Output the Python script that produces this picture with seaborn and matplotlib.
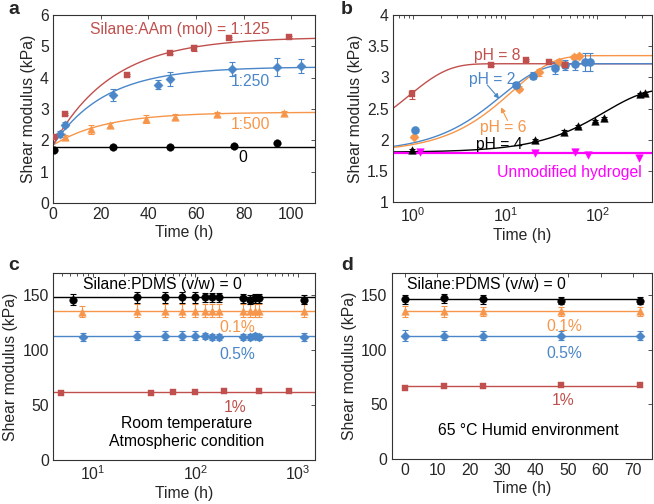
import numpy as np
import pandas as pd
import matplotlib
matplotlib.use("Agg")
import matplotlib.pyplot as plt
import seaborn as sns
from matplotlib.ticker import LogLocator, NullFormatter, MultipleLocator

sns.set_theme(style="white")
plt.rcParams['font.family'] = ['Liberation Sans', 'DejaVu Sans']

RED = "#C0504D"
BLUE = "#4A86C8"
ORANGE = "#F7964A"
BLACK = "#000000"
MAGENTA = "#FF00FF"

# ---------------- Panel a data ----------------
a_t_0 = [0.5, 25, 49, 76, 94]
a_g_0 = [1.70, 1.80, 1.80, 1.83, 1.93]
a_e_0 = [0.05, 0.06, 0.06, 0.06, 0.04]
a_t_500 = [5, 16, 24, 39, 51, 69, 97]
a_g_500 = [2.10, 2.35, 2.50, 2.68, 2.75, 2.85, 2.88]
a_e_500 = [0.06, 0.15, 0.06, 0.12, 0.08, 0.06, 0.07]
a_t_250 = [3, 5, 25, 44, 49, 75, 94, 104]
a_g_250 = [2.20, 2.50, 3.45, 3.78, 3.95, 4.28, 4.35, 4.38]
a_e_250 = [0.10, 0.08, 0.20, 0.15, 0.22, 0.22, 0.28, 0.22]
a_t_125 = [0.5, 5, 31, 49, 59, 74, 99]
a_g_125 = [2.12, 2.85, 4.10, 4.80, 4.95, 5.27, 5.30]
a_e_125 = [0.03, 0.03, 0.03, 0.04, 0.10, 0.03, 0.03]
# exponential fit parameters: G = G0 + A (1 - exp(-t/tau))
a_fit_G0 = [1.80, 1.85, 1.85, 1.85]
a_fit_A = [0.00, 1.05, 2.50, 3.45]
a_fit_tau = [1.0, 22.0, 22.0, 25.0]

# ---------------- Panel b data ----------------
b_t_8 = [0.98, 7, 17, 30, 45]
b_g_8 = [2.73, 3.20, 3.28, 3.25, 3.20]
b_e_8 = [0.07, 0.02, 0.02, 0.02, 0.05]
b_t_2 = [1.05, 13, 20, 35, 45, 57, 73, 83]
b_g_2 = [2.15, 2.88, 3.03, 3.15, 3.20, 3.22, 3.25, 3.25]
b_e_2 = [0.02, 0.04, 0.06, 0.09, 0.08, 0.10, 0.15, 0.15]
b_t_6 = [1.03, 14, 23, 38, 55, 63]
b_g_6 = [2.05, 2.82, 3.08, 3.25, 3.33, 3.35]
b_e_6 = [0.02, 0.04, 0.05, 0.04, 0.03, 0.03]
b_t_4 = [0.98, 21, 43, 62, 95, 118, 290, 328]
b_g_4 = [1.83, 2.00, 2.13, 2.22, 2.30, 2.35, 2.73, 2.75]
b_e_4 = [0.03, 0.02, 0.02, 0.02, 0.02, 0.02, 0.02, 0.02]
b_t_un = [1.2, 21, 57, 79, 283]
b_g_un = [1.80, 1.78, 1.80, 1.76, 1.70]
b_fit_G0 = [1.80, 1.80, 1.80, 1.80, 1.78]
b_fit_A = [1.42, 1.42, 1.55, 1.02, 0.0]
b_fit_tau = [0.89, 9.0, 12.0, 120.0, 1.0]

# ---------------- Panel c data ----------------
c_t_0 = [6.3, 27, 50, 74, 100, 123, 145, 170, 295, 340, 380, 420, 1160]
c_g_0 = [146, 148, 148, 148, 148, 148, 148, 148, 147, 146, 147, 147, 146]
c_e_0 = [5, 5, 5, 5, 5, 4, 4, 4, 4, 4, 4, 4, 4]
c_t_01 = [7.8, 27, 50, 74, 100, 123, 145, 170, 295, 340, 380, 420, 1160]
c_g_01 = [135, 136, 136, 136, 136, 136, 136, 136, 136, 136, 136, 136, 136]
c_e_01 = [5, 6, 6, 6, 6, 6, 6, 6, 6, 6, 6, 6, 6]
c_t_05 = [8, 27, 50, 74, 100, 123, 145, 170, 295, 340, 380, 420, 1160]
c_g_05 = [112, 113, 113, 113, 113, 113, 112, 112, 112, 112, 113, 112, 112]
c_e_05 = [4, 4, 4, 4, 4, 3, 3, 3, 3, 3, 3, 3, 4]
c_t_1 = [4.8, 37, 60, 100, 190, 420, 830]
c_g_1 = [61, 61, 62, 62, 63, 63, 63]
c_fit = [148, 136, 113, 62]

# ---------------- Panel d data ----------------
d_t = [0, 12, 24, 48, 72]
d_g_0 = [146, 147, 146, 145, 145]
d_e_0 = [4, 4, 4, 3, 3]
d_g_01 = [135, 135, 135, 135, 135]
d_e_01 = [5, 5, 4, 4, 4]
d_g_05 = [113, 113, 113, 113, 113]
d_e_05 = [5, 4, 4, 4, 4]
d_g_1 = [65, 67, 67, 68, 68]
d_fit = [146, 135, 113, 67]

FS = 11.3

fig = plt.figure(figsize=(6.54, 5.04), dpi=100)
ax_a = fig.add_axes([0.081, 0.597, 0.401, 0.373])
ax_b = fig.add_axes([0.601, 0.599, 0.396, 0.371])
ax_c = fig.add_axes([0.081, 0.087, 0.401, 0.371])
ax_d = fig.add_axes([0.599, 0.089, 0.398, 0.369])


def style(ax):
    ax.tick_params(direction="in", which="both", top=True, right=True,
                   labelsize=FS, length=3, width=0.6, color="#333333", pad=3)
    ax.tick_params(which="minor", length=1.8)
    for s in ax.spines.values():
        s.set_color("#333333")
        s.set_linewidth(0.8)
    ax.set_xlabel("Time (h)", fontsize=FS, labelpad=2)
    ax.set_ylabel("Shear modulus (kPa)", fontsize=FS, labelpad=3)


def pts(ax, t, g, e, color, marker, ms=30):
    df = pd.DataFrame({"t": t, "g": g})
    if e is not None:
        ax.errorbar(t, g, yerr=e, fmt="none", ecolor=color, elinewidth=0.8,
                    capsize=2.5, capthick=0.8, zorder=3)
    sns.scatterplot(data=df, x="t", y="g", ax=ax, color=color, marker=marker,
                    s=ms, edgecolor=color, linewidth=0.3, zorder=4, legend=False)


def curve(ax, t, g, color, lw=1.0):
    df = pd.DataFrame({"t": t, "g": g})
    sns.lineplot(data=df, x="t", y="g", ax=ax, color=color, lw=lw, zorder=2,
                 legend=False)


# ---------------- Panel a ----------------
ta = np.linspace(0, 110, 300)
a_colors = [BLACK, ORANGE, BLUE, RED]
for G0, A, tau, col in zip(a_fit_G0, a_fit_A, a_fit_tau, a_colors):
    curve(ax_a, ta, G0 + A * (1 - np.exp(-ta / tau)), col)
pts(ax_a, a_t_0, a_g_0, a_e_0, BLACK, "o")
pts(ax_a, a_t_500, a_g_500, a_e_500, ORANGE, "^")
pts(ax_a, a_t_250, a_g_250, a_e_250, BLUE, "D", ms=22)
pts(ax_a, a_t_125, a_g_125, a_e_125, RED, "s", ms=24)
ax_a.set_xlim(0, 110)
ax_a.set_ylim(0, 6)
ax_a.xaxis.set_major_locator(MultipleLocator(20))
ax_a.yaxis.set_major_locator(MultipleLocator(1))
style(ax_a)
ax_a.text(53, 5.55, "Silane:AAm (mol) = 1:125", color=RED, fontsize=FS, ha="center", va="center")
ax_a.text(83, 3.87, "1:250", color=BLUE, fontsize=FS, ha="center", va="center")
ax_a.text(83, 2.52, "1:500", color=ORANGE, fontsize=FS, ha="center", va="center")
ax_a.text(79.5, 1.47, "0", color=BLACK, fontsize=FS, ha="center", va="center")

# ---------------- Panel b ----------------
tb = np.logspace(np.log10(0.6), np.log10(400), 400)
b_colors = [RED, BLUE, ORANGE, BLACK, MAGENTA]
for G0, A, tau, col in zip(b_fit_G0, b_fit_A, b_fit_tau, b_colors):
    curve(ax_b, tb, G0 + A * (1 - np.exp(-tb / tau)), col,
          lw=1.6 if col == MAGENTA else 1.0)
pts(ax_b, b_t_un, b_g_un, None, MAGENTA, "v", ms=30)
pts(ax_b, b_t_4, b_g_4, b_e_4, BLACK, "^")
pts(ax_b, b_t_6, b_g_6, b_e_6, ORANGE, "D", ms=22)
pts(ax_b, b_t_2, b_g_2, b_e_2, BLUE, "o", ms=34)
pts(ax_b, b_t_8, b_g_8, b_e_8, RED, "s", ms=24)
ax_b.set_xscale("log")
ax_b.set_xlim(0.61, 390)
ax_b.set_ylim(1, 4)
ax_b.yaxis.set_major_locator(MultipleLocator(0.5))
ax_b.set_yticklabels([f"{v:g}" for v in ax_b.get_yticks()])
ax_b.xaxis.set_major_locator(LogLocator(base=10, numticks=10))
ax_b.xaxis.set_minor_locator(LogLocator(base=10, subs=np.arange(2, 10), numticks=10))
ax_b.xaxis.set_minor_formatter(NullFormatter())
style(ax_b)
ax_b.text(8.2, 3.36, "pH = 8", color=RED, fontsize=FS, ha="center", va="center")
ax_b.text(7.3, 2.97, "pH = 2", color=BLUE, fontsize=FS, ha="center", va="center")
ax_b.text(9.5, 2.20, "pH = 6", color=ORANGE, fontsize=FS, ha="center", va="center")
ax_b.text(8.7, 1.93, "pH = 4", color=BLACK, fontsize=FS, ha="center", va="center")
ax_b.text(50, 1.48, "Unmodified hydrogel", color=MAGENTA, fontsize=FS, ha="center", va="center")
ax_b.annotate("", xy=(8.6, 2.66), xytext=(6.4, 2.88),
              arrowprops=dict(arrowstyle="-|>", color=BLUE, lw=0.8, mutation_scale=7,
                              shrinkA=0, shrinkB=0))
ax_b.annotate("", xy=(9.0, 2.52), xytext=(10.6, 2.31),
              arrowprops=dict(arrowstyle="-|>", color=ORANGE, lw=0.8, mutation_scale=7,
                              shrinkA=0, shrinkB=0))

# ---------------- Panel c ----------------
tc = np.logspace(np.log10(4), np.log10(1500), 50)
for val, col in zip(c_fit, [BLACK, ORANGE, BLUE, RED]):
    curve(ax_c, tc, np.full_like(tc, val), col)
pts(ax_c, c_t_1, c_g_1, None, RED, "s", ms=24)
pts(ax_c, c_t_05, c_g_05, c_e_05, BLUE, "D", ms=22)
pts(ax_c, c_t_01, c_g_01, c_e_01, ORANGE, "^")
pts(ax_c, c_t_0, c_g_0, c_e_0, BLACK, "o")
ax_c.set_xscale("log")
ax_c.set_xlim(4.05, 1490)
ax_c.set_ylim(0, 170)
ax_c.yaxis.set_major_locator(MultipleLocator(50))
ax_c.xaxis.set_major_locator(LogLocator(base=10, numticks=10))
ax_c.xaxis.set_minor_locator(LogLocator(base=10, subs=np.arange(2, 10), numticks=10))
ax_c.xaxis.set_minor_formatter(NullFormatter())
style(ax_c)
ax_c.text(48, 160, "Silane:PDMS (v/w) = 0", color=BLACK, fontsize=FS, ha="center", va="center")
ax_c.text(255, 121, "0.1%", color=ORANGE, fontsize=FS, ha="center", va="center")
ax_c.text(255, 96, "0.5%", color=BLUE, fontsize=FS, ha="center", va="center")
ax_c.text(245, 48, "1%", color=RED, fontsize=FS, ha="center", va="center")
ax_c.text(83, 33, "Room temperature", color=BLACK, fontsize=FS, ha="center", va="center")
ax_c.text(83, 17, "Atmospheric condition", color=BLACK, fontsize=FS, ha="center", va="center")

# ---------------- Panel d ----------------
td = np.array([d_t[0], d_t[-1]])
for val, col in zip(d_fit, [BLACK, ORANGE, BLUE, RED]):
    curve(ax_d, td, np.full(2, val), col)
pts(ax_d, d_t, d_g_1, None, RED, "s", ms=24)
pts(ax_d, d_t, d_g_05, d_e_05, BLUE, "D", ms=22)
pts(ax_d, d_t, d_g_01, d_e_01, ORANGE, "^")
pts(ax_d, d_t, d_g_0, d_e_0, BLACK, "o")
ax_d.set_xlim(-4.0, 75.8)
ax_d.set_ylim(0, 170)
ax_d.xaxis.set_major_locator(MultipleLocator(10))
ax_d.yaxis.set_major_locator(MultipleLocator(50))
style(ax_d)
ax_d.text(25, 160, "Silane:PDMS (v/w) = 0", color=BLACK, fontsize=FS, ha="center", va="center")
ax_d.text(49, 121, "0.1%", color=ORANGE, fontsize=FS, ha="center", va="center")
ax_d.text(49, 97, "0.5%", color=BLUE, fontsize=FS, ha="center", va="center")
ax_d.text(48.5, 54, "1%", color=RED, fontsize=FS, ha="center", va="center")
ax_d.text(38, 26, "65 \u00b0C Humid environment", color=BLACK, fontsize=FS, ha="center", va="center")

# panel letters
for lbl, (x, y) in zip("abcd", [(8, 9), (341, 9), (8, 266), (341, 266)]):
    fig.text(x / 654, 1 - y / 504, lbl, fontsize=14, fontweight="bold",
             ha="left", va="center")

fig.savefig("out.png", dpi=100)
